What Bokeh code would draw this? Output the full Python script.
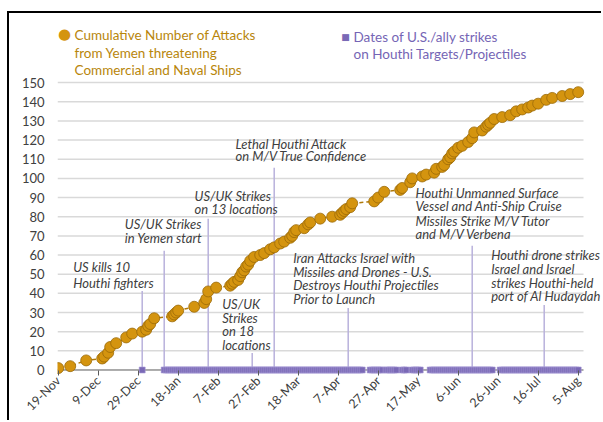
import math
from datetime import datetime
from bokeh.plotting import figure
from bokeh.models import Range1d, FixedTicker, Label, ColumnDataSource
from bokeh.embed import file_html
from bokeh.resources import INLINE

# ---------------- data ----------------
attack_dates = [
    "2023-11-19", "2023-11-25", "2023-12-03", "2023-12-11", "2023-12-12", "2023-12-14",
    "2023-12-15", "2023-12-18", "2023-12-23", "2023-12-26", "2023-12-31", "2024-01-02",
    "2024-01-03", "2024-01-04", "2024-01-06", "2024-01-15", "2024-01-16", "2024-01-17",
    "2024-01-18", "2024-01-26", "2024-01-31", "2024-02-01", "2024-02-02", "2024-02-06",
    "2024-02-13", "2024-02-14", "2024-02-15", "2024-02-17", "2024-02-18", "2024-02-19",
    "2024-02-20", "2024-02-21", "2024-02-22", "2024-02-23", "2024-02-25", "2024-02-28",
    "2024-03-01", "2024-03-04", "2024-03-06", "2024-03-09", "2024-03-11", "2024-03-14",
    "2024-03-15", "2024-03-16", "2024-03-17", "2024-03-21", "2024-03-23", "2024-03-24",
    "2024-03-29", "2024-04-04", "2024-04-08", "2024-04-09", "2024-04-10", "2024-04-11",
    "2024-04-13", "2024-04-14", "2024-04-25", "2024-04-27", "2024-04-30", "2024-05-08",
    "2024-05-09", "2024-05-13", "2024-05-14", "2024-05-19", "2024-05-21", "2024-05-25",
    "2024-05-26", "2024-05-29", "2024-05-30", "2024-06-01", "2024-06-02", "2024-06-03",
    "2024-06-04", "2024-06-06", "2024-06-08", "2024-06-11", "2024-06-13", "2024-06-14",
    "2024-06-18", "2024-06-20", "2024-06-21", "2024-06-22", "2024-06-24", "2024-06-28",
    "2024-07-02", "2024-07-05", "2024-07-08", "2024-07-11", "2024-07-13", "2024-07-16",
    "2024-07-20", "2024-07-23", "2024-07-28", "2024-08-01", "2024-08-05",
]
attack_cumulative = [
    1, 2, 5, 6, 7, 9,
    12, 14, 17, 19, 20, 21,
    23, 24, 27, 28, 29, 30,
    31, 33, 35, 37, 41, 43,
    44, 45, 46, 47, 49, 51,
    52, 54, 55, 57, 59, 60,
    61, 63, 64, 66, 67, 69,
    70, 72, 73, 74, 76, 77,
    79, 80, 81, 82, 83, 84,
    85, 87, 88, 90, 93, 94,
    95, 98, 100, 101, 102, 103,
    105, 106, 107, 110, 111, 113,
    114, 116, 117, 119, 121, 124,
    125, 127, 128, 129, 131, 132,
    133, 135, 136, 137, 138, 139,
    141, 142, 143, 144, 145,
]

# periods (inclusive) with daily U.S./ally strikes
strike_periods = [
    ("2023-12-31", "2023-12-31"),
    ("2024-01-11", "2024-04-19"),
    ("2024-04-23", "2024-04-29"),
    ("2024-05-01", "2024-05-06"),
    ("2024-05-09", "2024-05-11"),
    ("2024-05-14", "2024-05-18"),
    ("2024-05-23", "2024-06-23"),
    ("2024-06-27", "2024-08-05"),
]

tick_dates = ["2023-11-19", "2023-12-09", "2023-12-29", "2024-01-18", "2024-02-07",
              "2024-02-27", "2024-03-18", "2024-04-07", "2024-04-27", "2024-05-17",
              "2024-06-06", "2024-06-26", "2024-07-16", "2024-08-05"]
tick_labels = ["19-Nov", "9-Dec", "29-Dec", "18-Jan", "7-Feb", "27-Feb", "18-Mar",
               "7-Apr", "27-Apr", "17-May", "6-Jun", "26-Jun", "16-Jul", "5-Aug"]
y_ticks = list(range(0, 151, 10))

event_dates = ["2023-12-31", "2024-01-11", "2024-02-02", "2024-02-24", "2024-03-06",
               "2024-04-12", "2024-06-13", "2024-07-19"]
event_texts = [
    ["US kills 10", "Houthi fighters"],
    ["US/UK Strikes", "in Yemen start"],
    ["US/UK Strikes", "on 13 locations"],
    ["US/UK", "Strikes", "on 18", "locations"],
    ["Lethal Houthi Attack", "on M/V True Confidence"],
    ["Iran Attacks Israel with", "Missiles and Drones - U.S.", "Destroys Houthi Projectiles",
     "Prior to Launch"],
    ["Houthi Unmanned Surface", "Vessel and Anti-Ship Cruise", "Missiles Strike M/V Tutor",
     "and M/V Verbena"],
    ["Houthi drone strikes", "Israel and Israel", "strikes Houthi-held", "port of Al Hudaydah"],
]

legend_attacks = ["Cumulative Number of Attacks", "from Yemen threatening",
                  "Commercial and Naval Ships"]
legend_strikes = ["Dates of U.S./ally strikes", " on Houthi Targets/Projectiles"]

# ---------------- helpers / layout ----------------
EPOCH = datetime(1970, 1, 1)
DAY = 86400000.0


def ms(s):
    return (datetime.strptime(s, "%Y-%m-%d") - EPOCH).total_seconds() * 1000.0


X0 = ms("2023-11-19")
PX_PER_DAY = 2.0
PX_PER_UNIT = 1.9133
FONT = "Lato"
GOLD = "#d4940f"
GOLD_DARK = "#9a6a08"
PURPLE = "#7a69b6"

# canvas placed at page (9, 13)
CX, CY = 9, 13
W, H = 594, 409
FRAME_LEFT = 57 - CX          # 48
ZERO_Y = 369 - CY             # 356 (canvas y of value 0)
FRAME_BOTTOM = 374.5 - CY     # 361.5


def xd(px):
    """page-pixel x -> datetime ms"""
    return X0 + (px - 57.7) / PX_PER_DAY * DAY


def yd(py):
    """page-pixel y -> data value"""
    return (369 - py) / PX_PER_UNIT


x_start = xd(57)
x_end = xd(57 + (W - FRAME_LEFT))
y_min = -(FRAME_BOTTOM - ZERO_Y) / PX_PER_UNIT
y_max = ZERO_Y / PX_PER_UNIT
axis_end = xd(583)

strike_x = []
for a, b in strike_periods:
    t = ms(a)
    while t <= ms(b) + 1:
        strike_x.append(t)
        t += DAY

p = figure(width=W, height=H, output_backend="svg", toolbar_location=None,
           x_axis_type="datetime",
           x_range=Range1d(x_start, x_end), y_range=Range1d(y_min, y_max),
           min_border_left=FRAME_LEFT, min_border_right=0, min_border_top=0,
           min_border_bottom=int(H - FRAME_BOTTOM))
p.styles = {"border-top": "2px solid #000", "border-left": "2px solid #000",
            "margin-left": "7px", "margin-top": "11px"}
p.outline_line_color = None
p.background_fill_color = "white"
p.xgrid.grid_line_color = None
p.ygrid.grid_line_color = None

# horizontal gridlines (limited to the plotting span)
grid_vals = y_ticks[1:]
p.segment(x0=[x_start] * len(grid_vals), y0=grid_vals, x1=[axis_end] * len(grid_vals),
          y1=grid_vals, line_color="#d9d9d9", line_width=1.5)
# axis line at zero
p.segment(x0=[x_start], y0=[0], x1=[axis_end], y1=[0], line_color="#595959",
          line_width=1)

# y axis
p.yaxis.ticker = FixedTicker(ticks=y_ticks)
p.yaxis.axis_line_color = None
p.yaxis.major_tick_line_color = None
p.yaxis.major_tick_in = 0
p.yaxis.major_tick_out = 0
p.yaxis.minor_tick_line_color = None
p.yaxis.major_label_text_font = FONT
p.yaxis.major_label_text_font_size = "13px"
p.yaxis.major_label_text_color = "#404040"
p.yaxis.major_label_standoff = 13

# x axis
tick_ms = [ms(d) for d in tick_dates]
p.xaxis.ticker = FixedTicker(ticks=tick_ms)
p.xaxis.major_label_overrides = {t: l for t, l in zip(tick_ms, tick_labels)}
p.xaxis.axis_line_color = None
p.xaxis.major_tick_line_color = "#595959"
p.xaxis.major_tick_in = 5
p.xaxis.major_tick_out = 0
p.xaxis.minor_tick_line_color = None
p.xaxis.major_label_orientation = math.pi / 4
p.xaxis.major_label_text_font = FONT
p.xaxis.major_label_text_font_size = "12.5px"
p.xaxis.major_label_text_color = "#404040"
p.xaxis.major_label_standoff = 3

# event lines
ev_x = [ms(d) for d in event_dates]
ev_top = [yd(y) for y in [290, 250, 218, 352, 167, 307, 245, 304]]
p.segment(x0=ev_x, y0=[0] * len(ev_x), x1=ev_x, y1=ev_top, line_color="#b9b1dc",
          line_width=1.5)

# strikes
p.scatter(x=strike_x, y=[0] * len(strike_x), marker="square", size=6,
          fill_color=PURPLE, line_color="#a99ed6", line_width=0.6)

# attacks
src = ColumnDataSource(dict(x=[ms(d) for d in attack_dates], y=attack_cumulative))
p.line("x", "y", source=src, line_color="#b07a0a", line_width=1.5, line_dash="4 3")
p.scatter("x", "y", source=src, marker="circle", size=11, fill_color=GOLD,
          line_color=GOLD_DARK, line_width=0.8)

# event labels
text_pos = [
    (72.7, [265.7, 281.7]),
    (124.3, [223.3, 236.7]),
    (194.0, [195.0, 208.3]),
    (221.7, [303.3, 316.7, 330.0, 344.0]),
    (235.0, [143.3, 155.7]),
    (292.7, [256.7, 270.7, 284.3, 298.3]),
    (415.0, [192.7, 205.7, 220.0, 233.3]),
    (490.7, [254.3, 267.7, 281.7, 295.0]),
]
for (px, pys), lines in zip(text_pos, event_texts):
    for py, txt in zip(pys, lines):
        p.add_layout(Label(x=xd(px), y=yd(py), text=txt, text_font=FONT,
                           text_font_style="italic", text_font_size="13px",
                           text_color="#404040", text_baseline="middle",
                           text_align="left"))

# legend
p.add_layout(Label(x=xd(64), y=yd(33.5), text="\u25CF", text_font="DejaVu Sans",
                   text_font_size="15px", text_color=GOLD, text_baseline="middle",
                   text_align="center"))
for py, txt in zip([34.5, 52.0, 69.5], legend_attacks):
    p.add_layout(Label(x=xd(74), y=yd(py), text=txt, text_font=FONT,
                       text_font_size="13.5px", text_color="#b8860b",
                       text_baseline="middle", text_align="left"))
p.add_layout(Label(x=xd(345), y=yd(36), text="\u25A0", text_font="DejaVu Sans",
                   text_font_size="9px", text_color=PURPLE, text_baseline="middle",
                   text_align="center"))
for py, txt in zip([36.0, 53.5], legend_strikes):
    p.add_layout(Label(x=xd(353), y=yd(py), text=txt, text_font=FONT,
                       text_font_size="13.5px", text_color="#7565b5",
                       text_baseline="middle", text_align="left"))

open("out.html", "w").write(file_html(p, INLINE))
